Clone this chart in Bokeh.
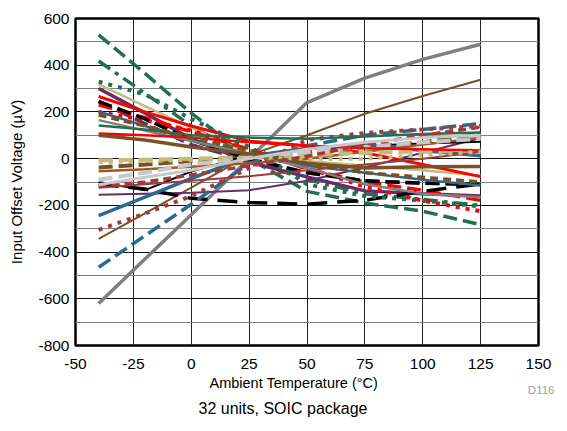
from bokeh.plotting import figure
from bokeh.models import FixedTicker, Range1d, Title
from bokeh.embed import file_html
from bokeh.resources import INLINE

temps = [-40, -20, 0, 25, 50, 75, 100, 125]

unit_01 = [-620, -430, -240, 0, 240, 345, 425, 490]
unit_02 = [-344, -234, -124, 15, 100, 192, 268, 338]
unit_03 = [530, 365, 195, 0, -140, -190, -225, -283]
unit_04 = [418, 280, 140, -5, -90, -150, -175, -200]
unit_05 = [318, 225, 133, 20, -10, -30, -50, -73]
unit_06 = [300, 195, 85, -15, -78, -138, -150, -160]
unit_07 = [244, 150, 60, -10, -60, -95, -105, -110]
unit_08 = [-155, -150, -146, -135, -95, -38, 25, 88]
unit_09 = [266, 200, 140, 75, 55, 25, -25, -77]
unit_10 = [230, 175, 115, 40, -45, -100, -135, -179]
unit_11 = [200, 165, 120, 45, -40, -120, -180, -225]
unit_12 = [245, 170, 80, 0, -60, -95, -105, -110]
unit_13 = [-110, -130, -170, -188, -195, -178, -140, -108]
unit_14 = [-100, -135, -55, 15, 40, 55, 65, 72]
unit_15 = [-244, -165, -85, 10, 45, 60, 35, 12]
unit_16 = [-465, -330, -195, -20, 55, 100, 125, 150]
unit_17 = [202, 140, 80, 20, -30, -60, -90, -115]
unit_18 = [-305, -235, -160, -40, 80, 110, 125, 140]
unit_19 = [-125, -110, -95, -75, -50, -25, 0, 30]
unit_20 = [-38, -25, -10, 10, 30, 50, 70, 105]
unit_21 = [-54, -45, -35, -20, 0, 30, 60, 90]
unit_22 = [-7, -5, 0, 5, 15, 25, 30, 36]
unit_23 = [-90, -60, -25, 5, 30, 50, 70, 85]
unit_24 = [165, 120, 75, 20, -40, -110, -150, -165]
unit_25 = [142, 125, 100, 90, 85, 95, 105, 112]
unit_26 = [108, 100, 90, 70, 55, 45, 40, 35]
unit_27 = [187, 140, 90, 35, -20, -60, -80, -100]
unit_28 = [100, 80, 50, 20, -20, -40, -35, -34]
unit_29 = [-15, -10, -5, 5, 0, 0, 15, 30]
unit_30 = [330, 275, 170, 50, -110, -160, -180, -205]
unit_31 = [-118, -100, -70, -30, 10, 60, 100, 135]
unit_32 = [-112, -80, -50, 0, 40, 70, 90, 100]

units = [unit_01, unit_02, unit_03, unit_04, unit_05, unit_06, unit_07, unit_08,
         unit_09, unit_10, unit_11, unit_12, unit_13, unit_14, unit_15, unit_16,
         unit_17, unit_18, unit_19, unit_20, unit_21, unit_22, unit_23, unit_24,
         unit_25, unit_26, unit_27, unit_28, unit_29, unit_30, unit_31, unit_32]

y_ticks = [-800, -600, -400, -200, 0, 200, 400, 600]
y_minor = [-700, -500, -300, -100, 100, 300, 500]
x_ticks = [-50, -25, 0, 25, 50, 75, 100, 125, 150]

RED = "#FF0000"; GRN = "#236E50"; TEAL = "#2B6A8C"; BLK = "#000000"
GRY = "#7F7F7F"; BRN = "#7A5025"; KHK = "#C4BC7C"; PUR = "#6A2C68"
ROSE = "#A33A3A"; LGRY = "#C8C8C8"; SIE = "#9A5A2A"

SOLID = "solid"; DASH = "14 6"; MDASH = "8 5"; DOT = "4 6"; DDOT = "14 6 4 6"

styles = [
    (GRY, SOLID, 3.5), (BRN, SOLID, 2), (GRN, DASH, 3.5), (GRN, DDOT, 3.5),
    (KHK, SOLID, 2.5), (PUR, SOLID, 3.5), (PUR, DASH, 3.5), (PUR, SOLID, 2),
    (RED, SOLID, 3), (RED, DASH, 3.5), (RED, DOT, 4), (BLK, DASH, 3.5),
    (BLK, "20 10", 3.5), (BLK, SOLID, 2), (TEAL, SOLID, 3.5), (TEAL, DASH, 3.5),
    (TEAL, SOLID, 2.5), (ROSE, DOT, 4), (ROSE, SOLID, 2), (BRN, DASH, 4),
    (SIE, SOLID, 2.5), (KHK, DASH, 4), (LGRY, DASH, 4), (GRY, SOLID, 2.5),
    (GRN, SOLID, 2.5), (RED, SOLID, 2.5), (BRN, MDASH, 3.5), (BRN, SOLID, 3.5),
    (KHK, DOT, 4), (GRN, DOT, 4), (ROSE, MDASH, 3.5), (LGRY, SOLID, 3),
]

FONT = "Liberation Sans"

p = figure(width=557, height=422, output_backend="svg", toolbar_location=None,
           x_range=Range1d(-50, 150), y_range=Range1d(-800, 600),
           min_border_left=75, min_border_right=19, min_border_top=18,
           min_border_bottom=0)

p.outline_line_color = "black"
p.outline_line_width = 2.5

for vals, (c, d, w) in zip(units, styles):
    p.line(temps, vals, line_color=c, line_dash=d, line_width=w)

p.xaxis.ticker = FixedTicker(ticks=x_ticks)
p.yaxis.ticker = FixedTicker(ticks=y_ticks, minor_ticks=y_minor)
p.xaxis.major_label_overrides = {t: str(t) for t in x_ticks}
p.yaxis.major_label_overrides = {t: str(t) for t in y_ticks}
p.xgrid.ticker = FixedTicker(ticks=x_ticks)
p.xgrid.grid_line_color = "#222222"
p.xgrid.grid_line_width = 1
p.ygrid.grid_line_color = "#111111"
p.ygrid.grid_line_width = 1
p.ygrid.minor_grid_line_color = "#7F7F7F"
p.ygrid.minor_grid_line_width = 1
p.grid.level = "underlay"

for ax in (p.xaxis, p.yaxis):
    ax.axis_line_color = None
    ax.major_tick_line_color = None
    ax.minor_tick_line_color = None
    ax.major_tick_out = 0
    ax.major_tick_in = 0
    ax.minor_tick_out = 0
    ax.major_label_text_font = FONT
    ax.major_label_text_font_size = "15.5px"
    ax.major_label_text_color = "black"
    ax.axis_label_text_font = FONT
    ax.axis_label_text_font_size = "15px"
    ax.axis_label_text_font_style = "normal"
    ax.axis_label_text_color = "black"

p.yaxis.axis_label = "Input Offset Voltage (µV)"
p.xaxis.major_label_standoff = 13
p.yaxis.major_label_standoff = 6
p.yaxis.axis_label_standoff = 10

p.add_layout(Title(text="Ambient Temperature (°C)", align="left", offset=134,
                   vertical_align="bottom", standoff=2,
                   text_font=FONT, text_font_size="14.5px",
                   text_font_style="normal", text_color="black"), "below")
p.add_layout(Title(text="D116", align="right", offset=-16,
                   vertical_align="top", standoff=-15,
                   text_font=FONT, text_font_size="11.5px",
                   text_font_style="normal", text_color="#A0A0A0"), "below")
p.add_layout(Title(text="32 units, SOIC package", align="left", offset=123,
                   vertical_align="bottom", standoff=12,
                   text_font=FONT, text_font_size="16px",
                   text_font_style="normal", text_color="black"), "below")

open("out.html", "w").write(file_html(p, INLINE))
